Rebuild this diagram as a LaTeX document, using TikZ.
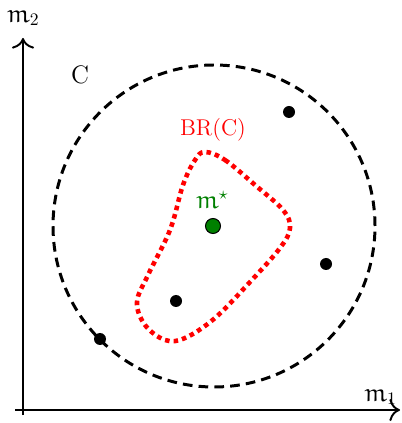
\documentclass[tikz,border=0pt]{standalone}
\usepackage{xcolor}
\usepackage{amsmath, amssymb}
\usepackage{tikz}
\usetikzlibrary{arrows.meta, calc}

\DeclareMathAlphabet{\matheur}{U}{eur}{m}{n}
\definecolor{brred}{RGB}{255,0,0}
\definecolor{stargreen}{RGB}{0,128,0}

\begin{document}
\begin{tikzpicture}
    \useasboundingbox (-0.46,-0.26) rectangle (7.56,8.2);
    \draw[-{To[scale=1.5]}, line width=1.1pt] (-0.16,0) -- (7.54,0) node[above left, xshift=2pt, yshift=-1pt] (mone) {\Large $\matheur{m}_1$};
    \draw[-{To[scale=1.5]}, line width=1.1pt] (0,-0.1) -- (0,7.44) node[above, yshift=3pt] (mtwo) {\Large $\matheur{m}_2$};
    \draw[line width=1.7pt, dash pattern=on 5.5pt off 3.5pt] (3.82,3.68) circle (3.22);
    \node (clabel) at (1.14,6.7) {\Large C};
    \draw[brred, line width=2.6pt, dash pattern=on 2.6pt off 2.3pt]
        plot[smooth cycle, tension=0.6] coordinates {(3.64,5.16) (4.04,5.0) (4.64,4.5) (5.2,4.0) (5.34,3.64) (5.14,3.24) (4.54,2.56) (3.84,1.84) (3.24,1.44) (2.84,1.4) (2.44,1.7) (2.28,2.16) (2.5,2.7) (2.94,3.6) (3.2,4.5) (3.44,5.0)};
    \node[brred] (brlabel) at (3.8,5.6) {\fontsize{13pt}{15pt}\selectfont BR(C)};
    \fill (5.32,5.96) circle (0.12);
    \fill (6.06,2.92) circle (0.12);
    \fill (3.06,2.18) circle (0.12);
    \fill (1.54,1.42) circle (0.12);
    \filldraw[fill=stargreen, draw=black, line width=0.6pt] (3.8,3.68) circle (0.15);
    \node[stargreen] (mstar) at (3.78,4.2) {\Large $\matheur{m}^\star$};
\end{tikzpicture}
\end{document}
